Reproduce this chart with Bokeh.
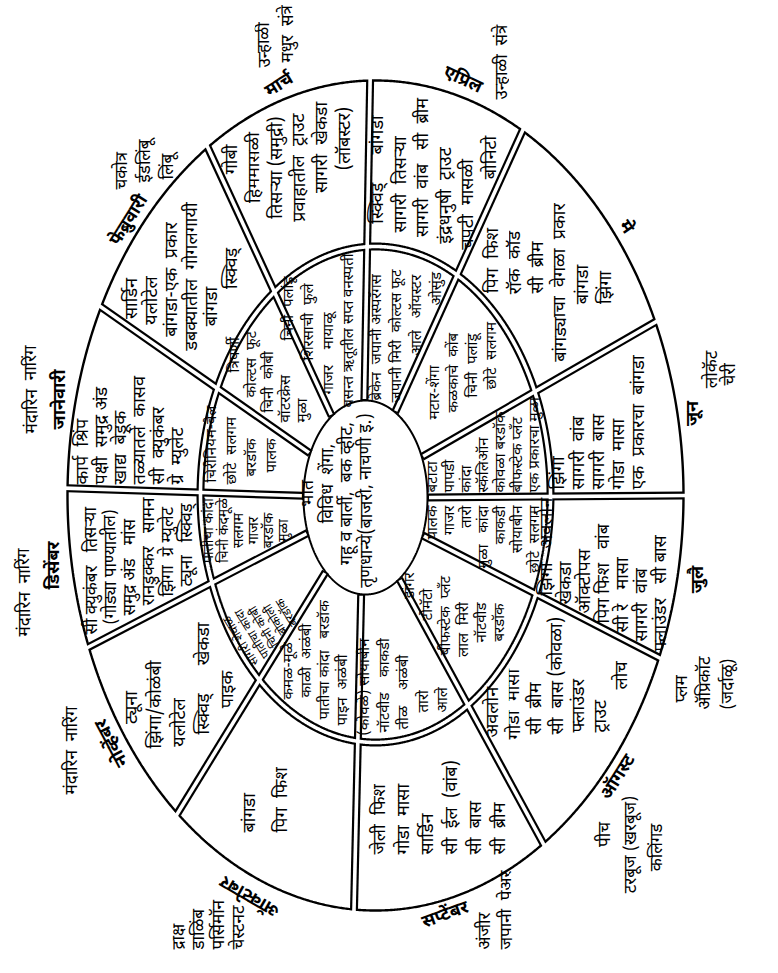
import numpy as np
from bokeh.plotting import figure
from bokeh.models import ColumnDataSource
from bokeh.core.properties import value
from bokeh.embed import file_html
from bokeh.resources import INLINE

FONT = "'Noto Sans Devanagari', 'Lohit Devanagari', 'Mukta', 'Noto Sans', sans-serif"

# ---------------- data ----------------
months = ["जानेवारी", "फेब्रुवारी", "मार्च", "एप्रिल", "मे", "जून",
          "जुलै", "ऑगस्ट", "सप्टेंबर", "ऑक्टोबर", "नोव्हेंबर", "डिसेंबर"]
# start angle of each month sector (degrees, clockwise from 3 o'clock)
month_start_deg = [181, 207, 237, 269, 298.5, 335.3, 360, 383, 417, 454, 490, 518.6]

outer_items = [
    ["कार्प  श्रिंप", "पक्षी  समुद्र अंड", "खाद्य  बेडूक", "तळ्यातले  कासव", "सी  क्युकंबर", "ग्रे  म्युलेट"],
    ["सार्डिन", "यलोटेल", "बांगडा-एक  प्रकार", "डबक्यातील  गोगलगायी", "बांगडा", "स्क्विड्"],
    ["गोबी", "हिममासळी", "तिसऱ्या (समुद्री)", "प्रवाहातील  ट्राउट", "सागरी  खेकडा", "(लॉबस्टर)"],
    ["स्क्विड्      बांगडा", "सागरी  तिसऱ्या", "सागरी  वांब   सी  ब्रीम", "इंद्रधनुषी  ट्राउट", "चपटी  मासळी", "बोनिटो"],
    ["पिग  फिश", "रॉक  कॉड", "सी  ब्रीम", "बांगड्याचा  वेगळा  प्रकार", "बांगडा", "झिंगा"],
    ["झिंगा", "सागरी  वांब", "सागरी  बास", "गोडा  मासा", "एक  प्रकारचा  बांगडा"],
    ["झिंगा   अवलोन", "खेकडा", "ऑक्टोपस", "पिग फिश   वांब", "सी रे   मासा", "सागरी  वांब", "फ्लाउंडर   सी बास"],
    ["अवलोन", "गोडा  मासा", "सी  ब्रीम", "सी  बास (कोवळा)", "फ्लाउंडर", "ट्राउट", "लोच"],
    ["जेली  फिश", "गोडा  मासा", "सार्डिन", "सी  ईल  (वांब)", "सी  बास", "सी  ब्रीम"],
    ["बांगडा", "पिग  फिश"],
    ["ट्यूना", "झिंगा/कोळंबी", "यलोटेल", "स्क्विड्      खेकडा", "पाइक"],
    ["सी क्युकंबर   तिसऱ्या", "(गोड्या पाण्यातील)", "समुद्र अंड   मांस", "रानडुक्कर   सामन", "झिंगा  ग्रे म्युलेट", "ट्यूना   स्क्विड्"],
]

inner_items = [
    ["चिरीनियम-वेल", "छोटे  सलगम", "बरडॉक", "पालक"],
    ["त्रिपर्णी", "कोल्टस  फूट", "चिनी  कोबी", "वॉटरक्रेस", "मुळा"],
    ["चिनी  पलांडू", "शिरसाची  फुले", "गाजर    मायाळू", "वसन्त ऋतूतील सप्त वनस्पती"],
    ["ब्रेकेन  जपानी अस्परॅगस", "जपानी मिरी  कोल्टस फूट", "आले   ऑयस्टर", "ओसुंड"],
    ["मटार-शेंगा", "कळकाचे  कोंब", "चिनी  पलांडू", "छोटे  सलगम"],
    ["बटाटा", "पापडी", "कांदा", "स्कॅलिऑन", "कोवळा बरडॉक", "बीफस्टेक प्लँट", "एक प्रकारचा मुळा"],
    ["पालक", "गाजर", "तारो", "मुळा   कांदा", "काकडी", "सोयाबीन", "छोटे  सलगम"],
    ["डांगर", "टोमॅटो", "बीफस्टेक  प्लँट", "लाल  मिरी", "नॉटवीड", "बरडॉक"],
    ["(कोवळे) सोयाबीन", "नॉटवीड    काकडी", "तीळ    अळंबी", "तारो", "आले"],
    ["कमळ-मूळे", "काळी  अळंबी", "पातीचा कांदा   बरडॉक", "पाइन  अळंबी"],
    ["सागरी शेवाळ", "पातीचा कांदा", "चिनी कोबी", "ब्रोकोली", "बरडॉक"],
    ["पातीचा कांदा", "चिनी कंदमूळे", "सलगम", "गाजर", "बरडॉक", "मुळा"],
]

hub_lines = ["भात", "विविध  शेंगा,", "गहू व बार्ली,  बक व्हीट,", "तृणधान्ये(बाजरी, नाचणी इ.)"]

fruits = [
    ["मंदारिन  नारिंग"],
    ["चकोत्र", "ईडलिंबू", "लिंबू"],
    ["उन्हाळी", "मधुर  संत्रे"],
    ["उन्हाळी  संत्रे"],
    [],
    ["लोकॅट", "चेरी"],
    ["प्लम", "ॲप्रिकॉट", "(जर्दाळू)"],
    ["पीच", "टरबूज (खरबूज)", "कलिंगड"],
    ["अंजीर", "जपानी  पेअर"],
    ["द्राक्ष", "डाळिंब", "पर्सिमॉन", "चेस्टनट"],
    ["मंदारिन  नारिंग"],
    ["मंदारिन  नारिंग"],
]

# ---------------- layout (page pixel frame) ----------------
C_OUT, A_OUT, B_OUT = (383.0, 503.0), 308.0, 415.0
C_MID, A_MID, B_MID = (383.0, 502.0), 175.0, 248.0
C_HUB, A_HUB, B_HUB = (373.0, 505.0), 62.0, 97.0

# text blocks: (first-line x, line step, align, y or list of y, angle deg, font px)
outer_layout = [
    (91, 19, "b", 492, 90, 18),
    (140, 20, "c", [306, 308, 287, 284, 314, 276], 90, 18),
    (240, 22.5, "c", [167, 175, 175, 175, 155, 146], 90, 18),
    (386, 22.5, "c", [177, 192, 175, 203, 212, 165], 90, 18),
    (501, 22.5, "c", [268, 270, 275, 290, 292, 295], 90, 18),
    (567, 20, "b", 497, 90, 18),
    (555, 19, "b", [603, 612, 621, 631, 640, 649, 659], 90, 18),
    (501, 21.5, "b", [745, 747, 742, 742, 740, 740, 697], 90, 18),
    (388, 24, "b", 862, 90, 18),
    (258, 32, "b", 840, 90, 18),
    (140, 24, "c", [715, 712, 730, 686, 697], 90, 18),
    (100, 19, "b", [642, 632, 623, 613, 604, 594], 90, 17),
]
inner_layout = [
    (220, 20, "b", [490, 492, 484, 480], 90, 15),
    (243, 17, "b", [380, 405, 420, 430, 430], 90, 15),
    (297, 20, "b", [348, 368, 402, 415], 90, 15),
    (385, 20, "b", [408, 410, 363, 313], 90, 15),
    (443, 19, "b", [427, 420, 405, 397], 90, 15),
    (441, 17, "b", 500, 90, 15),
    (441, 17, "t", 513, 90, 15),
    (418, 18, "c", [593, 612, 623, 637, 630, 630], 90, 15),
    (373, 19.5, "b", [743, 740, 737, 720, 720], 90, 15),
    (297, 18, "b", [707, 705, 727, 733], 90, 15),
    (249, 13.5, "c", 648, 122, 12),
    (217, 15, "c", 538, 90, 14),
]
hub_layout = (316, 19.5, "c", [501, 491, 501, 508], 90, 17.5)
fruit_layout = [
    (40, 20, "c", 397, 90, 17),
    (130, 23, "b", [197, 190, 187], 90, 17),
    (273, 23, "b", [75, 70], 90, 17),
    (510, 20, "b", 107, 90, 17),
    (0, 0, "c", 0, 90, 17),
    (720, 18, "c", [377, 382], 90, 17),
    (690, 23, "b", [710, 717, 717], 90, 17),
    (613, 26, "c", [842, 852, 855], 90, 17),
    (493, 22, "b", 957, 90, 17),
    (187, 20, "b", 957, 90, 17),
    (80, 20, "c", 758, 90, 17),
    (33, 20, "c", 600, 90, 17),
]
month_label_pos = [(68, 407, 90), (137, 228, 58), (287, 93, 32), (470, 88, -25),
                   (633, 235, -55), (701, 421, 90), (706, 587, 90), (626, 785, 58),
                   (453, 923, 20), (258, 903, 150), (120, 750, 118), (62, 573, 90)]


def ell(c, a, b, deg):
    t = np.radians(np.asarray(deg, dtype=float))
    return c[0] + a * np.cos(t), c[1] + b * np.sin(t)


p = figure(width=762, height=957, x_range=(8, 770), y_range=(-965, -8),
           output_backend="svg", toolbar_location=None, min_border=0,
           x_axis_location=None, y_axis_location=None)
p.grid.visible = False
p.outline_line_color = None

th = np.linspace(0, 360, 1441)
ox, oy = ell(C_OUT, A_OUT, B_OUT, th)
mx, my = ell(C_MID, A_MID, B_MID, th)
hx, hy = ell(C_HUB, A_HUB, B_HUB, th)
s0x, s0y = ell(C_HUB, A_HUB, B_HUB, month_start_deg)
s1x, s1y = ell(C_OUT, A_OUT, B_OUT, month_start_deg)
dx, dy = s1x - s0x, s1y - s0y
ln = np.hypot(dx, dy)
ux, uy = dx / ln, dy / ln

# black double-line bodies
p.line(mx, -my, line_color="black", line_width=8)
p.segment(s0x, -s0y, s1x, -s1y, line_color="black", line_width=8)
# single outlines
p.line(ox, -oy, line_color="black", line_width=2.4)
p.line(hx, -hy, line_color="black", line_width=2)
# white centres
p.line(mx, -my, line_color="white", line_width=3.6)
p.segment(s0x + 1.5 * ux, -(s0y + 1.5 * uy), s1x + 4 * ux, -(s1y + 4 * uy),
          line_color="white", line_width=3.6)

groups = {}


def add(lines, lay, bold=False):
    x0, sp, al, ys, ang, size = lay
    a = np.radians(ang)
    for i, t in enumerate(lines):
        if isinstance(ys, list):
            x, y = x0 + i * sp, ys[i]
        else:
            x, y = x0 + i * sp * np.sin(a), ys + i * sp * np.cos(a)
        key = ({"b": "left", "c": "center", "t": "right"}[al], f"{size}px", bold)
        g = groups.setdefault(key, dict(x=[], y=[], text=[], angle=[]))
        g["x"].append(x)
        g["y"].append(-y)
        g["text"].append(t.replace(" ", "\u00a0"))
        g["angle"].append(a)


for m in range(12):
    add(outer_items[m], outer_layout[m])
    add(inner_items[m], inner_layout[m])
    add(fruits[m], fruit_layout[m])
    lx, ly, la = month_label_pos[m]
    add([months[m]], (lx, 0, "c", [ly], la, 18), True)
add(hub_lines, hub_layout)

for (align, size, bold), g in groups.items():
    p.text(x="x", y="y", text="text", angle="angle", source=ColumnDataSource(g),
           text_align=align, text_baseline="middle", text_font=value(FONT),
           text_font_size=size, text_font_style="bold" if bold else "normal",
           text_color="black")

open("out.html", "w").write(file_html(p, INLINE))
